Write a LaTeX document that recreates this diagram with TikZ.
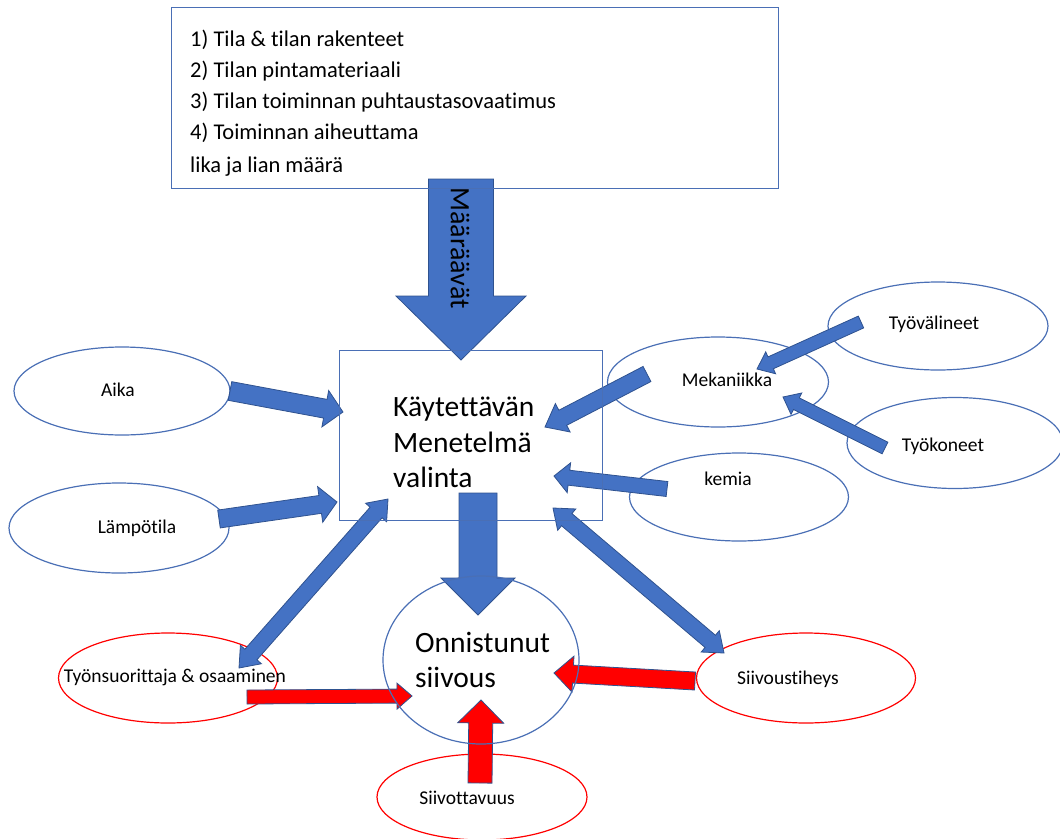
\documentclass[tikz,border=0pt]{standalone}
\usepackage{fontspec}
\setmainfont{Carlito}[Ligatures=NoCommon]
\usetikzlibrary{calc,shapes.geometric}
\definecolor{accblue}{HTML}{4472C4}
\definecolor{edgeblue}{HTML}{2F528F}
\definecolor{lineblue}{HTML}{4A6FB5}

% straight block arrow: style, from, to, shaft half-width, head half-width, head length
\newcommand\blockarrow[6]{%
  \draw[#1] let \p1=($(#3)-(#2)$), \n1={atan2(\y1,\x1)}, \n2={veclen(\x1,\y1)-#6} in
    ($(#2)+(\n1+90:#4pt)$)
    -- ($(#2)+(\n1:\n2)+(\n1+90:#4pt)$)
    -- ($(#2)+(\n1:\n2)+(\n1+90:#5pt)$)
    -- (#3)
    -- ($(#2)+(\n1:\n2)+(\n1-90:#5pt)$)
    -- ($(#2)+(\n1:\n2)+(\n1-90:#4pt)$)
    -- ($(#2)+(\n1-90:#4pt)$) -- cycle;}

% block arrow with a head at both ends
\newcommand\twowayarrow[6]{%
  \draw[#1] let \p1=($(#3)-(#2)$), \n1={atan2(\y1,\x1)}, \n2={veclen(\x1,\y1)-#6} in
    (#2)
    -- ($(#2)+(\n1:#6pt)+(\n1+90:#5pt)$)
    -- ($(#2)+(\n1:#6pt)+(\n1+90:#4pt)$)
    -- ($(#2)+(\n1:\n2)+(\n1+90:#4pt)$)
    -- ($(#2)+(\n1:\n2)+(\n1+90:#5pt)$)
    -- (#3)
    -- ($(#2)+(\n1:\n2)+(\n1-90:#5pt)$)
    -- ($(#2)+(\n1:\n2)+(\n1-90:#4pt)$)
    -- ($(#2)+(\n1:#6pt)+(\n1-90:#4pt)$)
    -- ($(#2)+(\n1:#6pt)+(\n1-90:#5pt)$)
    -- cycle;}

\begin{document}
\begin{tikzpicture}[x=1pt,y=-1pt,
  oval/.style={ellipse, draw=lineblue, line width=1.2pt, inner sep=0pt},
  redoval/.style={oval, draw=red},
  lbl/.style={font=\fontsize{19.5}{23}\selectfont, inner sep=0pt},
  bigtext/.style={font=\fontsize{29.5}{35.5}\selectfont, inner sep=0pt, anchor=west, align=left},
  bluearrow/.style={fill=accblue, draw=edgeblue, line width=0.8pt},
  redarrow/.style={fill=red, draw=edgeblue, line width=0.8pt},
  frame/.style={draw=lineblue, line width=1.2pt}]

\useasboundingbox (0,0) rectangle (1060,838);

% factor ellipses
\node[oval, minimum width=216, minimum height=88] (aika) at (122,391) {};
\node[oval, minimum width=220, minimum height=90] (lampo) at (119,528) {};
\node[oval, minimum width=221, minimum height=90] (mek) at (718,382) {};
\node[oval, minimum width=220, minimum height=88] (tyov) at (938,326) {};
\node[oval, minimum width=216, minimum height=91] (tyok) at (955,443) {};
\node[oval, minimum width=219, minimum height=88] (kemia) at (739,497) {};
\node[redoval, minimum width=219, minimum height=90] (tekija) at (168,678) {};
\node[redoval, minimum width=219, minimum height=90] (tiheys) at (806,678) {};
\node[redoval, minimum width=210, minimum height=86] (siivott) at (482,797) {};

% central shapes (outlines drawn after the arrows)
\node[minimum width=606, minimum height=180, inner sep=0pt] (crit) at (475,98) {};
\node[minimum width=262, minimum height=169, inner sep=0pt] (mid) at (471,435.5) {};
\node[ellipse, minimum width=196, minimum height=168, inner sep=0pt] (goal) at (481,660) {};

% arrow end points
\coordinate (crit-out) at (461,179);   \coordinate (mid-top) at (461,360);
\coordinate (mid-out) at (478,493);    \coordinate (goal-top) at (478,615);
\coordinate (aika-out) at (230,391);   \coordinate (mid-a) at (343,412);
\coordinate (lampo-out) at (219,519);  \coordinate (mid-l) at (337,502);
\coordinate (mek-out) at (647,374);    \coordinate (mid-m) at (545,427);
\coordinate (tyov-out) at (861,322);   \coordinate (mek-v) at (757,369);
\coordinate (tyok-out) at (885,448);   \coordinate (mek-k) at (783,397);
\coordinate (kemia-out) at (667,489);  \coordinate (mid-k) at (554,476);
\coordinate (mid-sw) at (388,499);     \coordinate (tekija-in) at (239,668);
\coordinate (mid-se) at (553,508);     \coordinate (tiheys-in) at (724,653);
\coordinate (tekija-out) at (247,697); \coordinate (goal-w) at (412,696);
\coordinate (tiheys-out) at (695,681); \coordinate (goal-e) at (554,673);
\coordinate (siivott-out) at (480,783);\coordinate (goal-s) at (481,700);

% blue arrows
\blockarrow{bluearrow}{crit-out}{mid-top}{32.5}{65}{64}
\blockarrow{bluearrow}{mid-out}{goal-top}{19}{37}{37}
\blockarrow{bluearrow}{aika-out}{mid-a}{9.5}{18.5}{18}
\blockarrow{bluearrow}{lampo-out}{mid-l}{9}{18}{17}
\blockarrow{bluearrow}{mek-out}{mid-m}{8.5}{16}{20}
\blockarrow{bluearrow}{tyov-out}{mek-v}{6.5}{12}{15}
\blockarrow{bluearrow}{tyok-out}{mek-k}{6.5}{12}{15}
\blockarrow{bluearrow}{kemia-out}{mid-k}{7.5}{15}{15}
\twowayarrow{bluearrow}{mid-sw}{tekija-in}{8}{14}{18}
\twowayarrow{bluearrow}{mid-se}{tiheys-in}{8}{14}{18}

% red arrows
\blockarrow{redarrow}{tekija-out}{goal-w}{7}{13}{15}
\blockarrow{redarrow}{tiheys-out}{goal-e}{9}{18}{19}
\blockarrow{redarrow}{siivott-out}{goal-s}{12}{23}{23}

% outlines on top
\draw[frame] (crit.north west) rectangle (crit.south east);
\draw[frame] (mid.north west) rectangle (mid.south east);
\draw[frame] (goal.center) ellipse [x radius=98, y radius=84];

% texts
\node[anchor=west, align=left, inner sep=0pt, font=\fontsize{22.5}{31}\selectfont] (crit-t) at (190,103)
  {1) Tila \& tilan rakenteet\\2) Tilan pintamateriaali\\3) Tilan toiminnan puhtaustasovaatimus\\4) Toiminnan aiheuttama\\[2pt]lika ja lian määrä};
\node[rotate=-90, inner sep=0pt, font=\fontsize{28}{30}\selectfont] (det-t) at (460,248) {Määräävät};
\node[bigtext] (mid-t) at (393,442.5) {Käytettävän\\Menetelmä\\valinta};
\node[bigtext] (goal-t) at (415,660) {Onnistunut\\siivous};

\node[lbl] (aika-t) at (118,390) {Aika};
\node[lbl] (lampo-t) at (137,528) {Lämpötila};
\node[lbl] (mek-t) at (727,380) {Mekaniikka};
\node[lbl] (tyov-t) at (934,324) {Työvälineet};
\node[lbl] (tyok-t) at (943,446) {Työkoneet};
\node[lbl] (kemia-t) at (728,479) {kemia};
\node[lbl] (tekija-t) at (175,677) {Työnsuorittaja \& osaaminen};
\node[lbl] (tiheys-t) at (788,679) {Siivoustiheys};
\node[lbl] (siivott-t) at (467,798) {Siivottavuus};
\end{tikzpicture}
\end{document}
